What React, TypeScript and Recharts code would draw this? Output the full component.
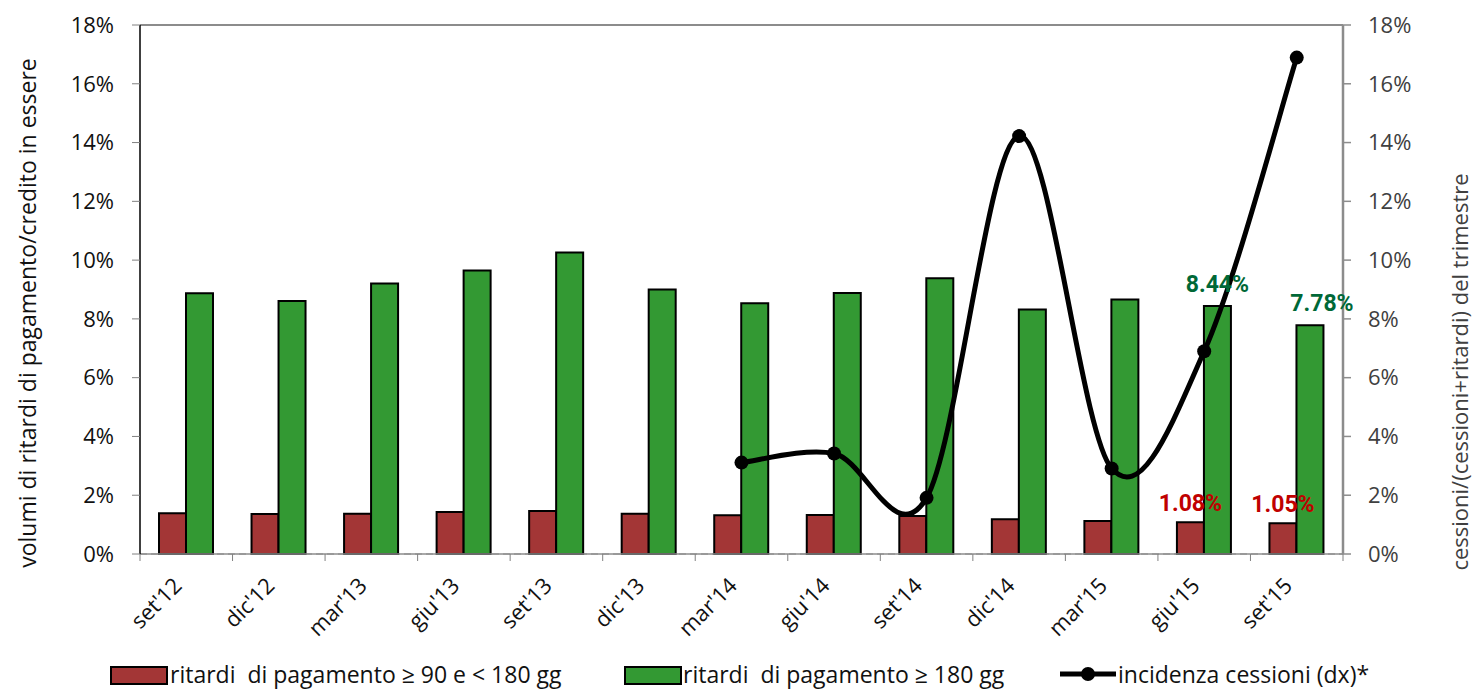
import { Bar, CartesianGrid, ComposedChart, LabelList, Line, ReferenceLine, XAxis, YAxis } from "recharts";

const quarters = ["set'12", "dic'12", "mar'13", "giu'13", "set'13", "dic'13", "mar'14", "giu'14", "set'14", "dic'14", "mar'15", "giu'15", "set'15"];
const lateShort = [1.39, 1.36, 1.37, 1.43, 1.46, 1.37, 1.32, 1.33, 1.29, 1.18, 1.12, 1.08, 1.05];
const lateLong = [8.87, 8.61, 9.2, 9.65, 10.26, 9.0, 8.53, 8.88, 9.38, 8.32, 8.66, 8.44, 7.78];
const cessionShare = [null, null, null, null, null, null, 3.11, 3.42, 1.91, 14.22, 2.91, 6.9, 16.89];
const shortLabels = ["", "", "", "", "", "", "", "", "", "", "", "1.08%", "1.05%"];
const longLabels = ["", "", "", "", "", "", "", "", "", "", "", "8.44%", "7.78%"];
const yTicks = [0, 2, 4, 6, 8, 10, 12, 14, 16, 18];

const chartData = quarters.map((q, i) => ({
  quarter: q,
  short: lateShort[i],
  long: lateLong[i],
  cession: cessionShare[i],
  shortLabel: shortLabels[i],
  longLabel: longLabels[i],
}));

const FONT = "'Open Sans', 'Noto Sans', sans-serif";
const RED = "#A33636";
const GREEN = "#339933";
const HALF_BAND = 1203 / 13 / 2;

// excel-like smoothed line (catmull-rom through the points)
function smoothCurve(context: any) {
  let pts: number[][] = [];
  return {
    areaStart() {},
    areaEnd() {},
    lineStart() {
      pts = [];
    },
    point(x: number, y: number) {
      pts.push([+x, +y]);
    },
    lineEnd() {
      if (!pts.length) return;
      context.moveTo(pts[0][0], pts[0][1]);
      for (let i = 0; i < pts.length - 1; i++) {
        const p0 = pts[i - 1] || pts[i];
        const p1 = pts[i];
        const p2 = pts[i + 1];
        const p3 = pts[i + 2] || p2;
        context.bezierCurveTo(
          p1[0] + (p2[0] - p0[0]) / 6,
          p1[1] + (p2[1] - p0[1]) / 6,
          p2[0] - (p3[0] - p1[0]) / 6,
          p2[1] - (p3[1] - p1[1]) / 6,
          p2[0],
          p2[1]
        );
      }
    },
  };
}

function QuarterTick(props: any) {
  const { x, y, payload, index } = props;
  return (
    <g>
      {index === 0 && <line x1={x - HALF_BAND} x2={x - HALF_BAND} y1={y} y2={y + 7} stroke="#808080" />}
      <line x1={x + HALF_BAND} x2={x + HALF_BAND} y1={y} y2={y + 7} stroke="#808080" />
      <text
        x={x - 3}
        y={y + 33}
        transform={`rotate(-45 ${x - 3} ${y + 33})`}
        textAnchor="end"
        fontFamily={FONT}
        fontSize={22}
        fill="#111"
      >
        {payload.value}
      </text>
    </g>
  );
}

function valueLabel(color: string, dy: number, dx: number) {
  return (props: any) => {
    const { x, y, width, value, index } = props;
    if (!value) return null;
    return (
      <text
        x={x + width / 2 + (index === 12 ? dx : 0)}
        y={y - dy}
        textAnchor="middle"
        fontFamily="Roboto, sans-serif"
        fontWeight={700}
        fontSize={23}
        fill={color}
      >
        {value}
      </text>
    );
  };
}

function LegendRow() {
  const text = { fontFamily: FONT, fontSize: 23, color: "#111", whiteSpace: "pre" as const, lineHeight: "26px" };
  return (
    <div style={{ position: "absolute", left: 0, top: 661, width: 1473, height: 26 }}>
      <div style={{ position: "absolute", left: 110, top: 5, width: 54, height: 15, background: RED, border: "2px solid #000" }} />
      <div style={{ ...text, position: "absolute", left: 170, top: 0 }}>ritardi  di pagamento ≥ 90 e &lt; 180 gg</div>
      <div style={{ position: "absolute", left: 624, top: 5, width: 54, height: 15, background: GREEN, border: "2px solid #000" }} />
      <div style={{ ...text, position: "absolute", left: 683, top: 0 }}>ritardi  di pagamento ≥ 180 gg</div>
      <svg style={{ position: "absolute", left: 1058, top: 0 }} width={60} height={26}>
        <line x1={2} x2={58} y1={13} y2={13} stroke="#000" strokeWidth={5} />
        <circle cx={30} cy={13} r={7} fill="#000" />
      </svg>
      <div style={{ ...text, position: "absolute", left: 1118, top: 0 }}>incidenza cessioni (dx)*</div>
    </div>
  );
}

export default function App() {
  return (
    <div style={{ position: "absolute", left: 0, top: 0, width: 1473, height: 691, background: "#fff", overflow: "hidden" }}>
      <ComposedChart
        width={1473}
        height={691}
        data={chartData}
        margin={{ top: 25, right: 30, left: 40, bottom: 37 }}
        barGap={0}
      >
        <CartesianGrid vertical={false} stroke="#808080" strokeDasharray="7 4" />
        <XAxis
          dataKey="quarter"
          xAxisId="x"
          height={100}
          tickSize={0}
          tickMargin={0}
          axisLine={{ stroke: "#8c8c8c", strokeWidth: 1.5 }}
          tick={<QuarterTick />}
          interval={0}
        />
        <YAxis
          yAxisId="left"
          orientation="left"
          width={100}
          domain={[0, 18]}
          ticks={yTicks}
          tickFormatter={(v: number) => `${v}%`}
          tickSize={8}
          tickMargin={18}
          tickLine={{ stroke: "#808080" }}
          axisLine={{ stroke: "#000", strokeWidth: 1.5 }}
          tick={{ fontFamily: FONT, fontSize: 22, fill: "#111" }}
          label={{
            content: () => (
              <text x={27} y={313} transform="rotate(-90 27 313)" textAnchor="middle" dominantBaseline="central" fontFamily={FONT} fontSize={23} fill="#111">
                volumi di ritardi di pagamento/credito in essere
              </text>
            ),
          }}
        />
        <YAxis
          yAxisId="right"
          orientation="right"
          width={100}
          domain={[0, 18]}
          ticks={yTicks}
          tickFormatter={(v: number) => `${v}%`}
          tickSize={8}
          tickMargin={17}
          tickLine={{ stroke: "#8c8c8c", strokeWidth: 1.5 }}
          axisLine={{ stroke: "#8c8c8c", strokeWidth: 2.5 }}
          tick={{ fontFamily: FONT, fontSize: 22, fill: "#404040" }}
          label={{
            content: () => (
              <text x={1459} y={372} transform="rotate(-90 1459 372)" textAnchor="middle" dominantBaseline="central" fontFamily={FONT} fontSize={22} fill="#404040">
                cessioni/(cessioni+ritardi) del trimestre
              </text>
            ),
          }}
        />
        <ReferenceLine yAxisId="left" xAxisId="x" y={18} stroke="#8c8c8c" strokeWidth={2} />
        <Bar xAxisId="x" yAxisId="left" dataKey="short" fill={RED} stroke="#000" strokeWidth={2} barSize={27} isAnimationActive={false}>
          <LabelList dataKey="shortLabel" content={valueLabel("#C00000", 11, 0)} />
        </Bar>
        <Bar xAxisId="x" yAxisId="left" dataKey="long" fill={GREEN} stroke="#000" strokeWidth={2} barSize={27} isAnimationActive={false}>
          <LabelList dataKey="longLabel" content={valueLabel("#006837", 14, 12)} />
        </Bar>
        <Line
          xAxisId="x"
          yAxisId="right"
          dataKey="cession"
          type={smoothCurve as any}
          stroke="#000"
          strokeWidth={5}
          dot={{ r: 7, fill: "#000", stroke: "#000", strokeWidth: 0 }}
          activeDot={false}
          isAnimationActive={false}
        />
      </ComposedChart>
      <LegendRow />
    </div>
  );
}
